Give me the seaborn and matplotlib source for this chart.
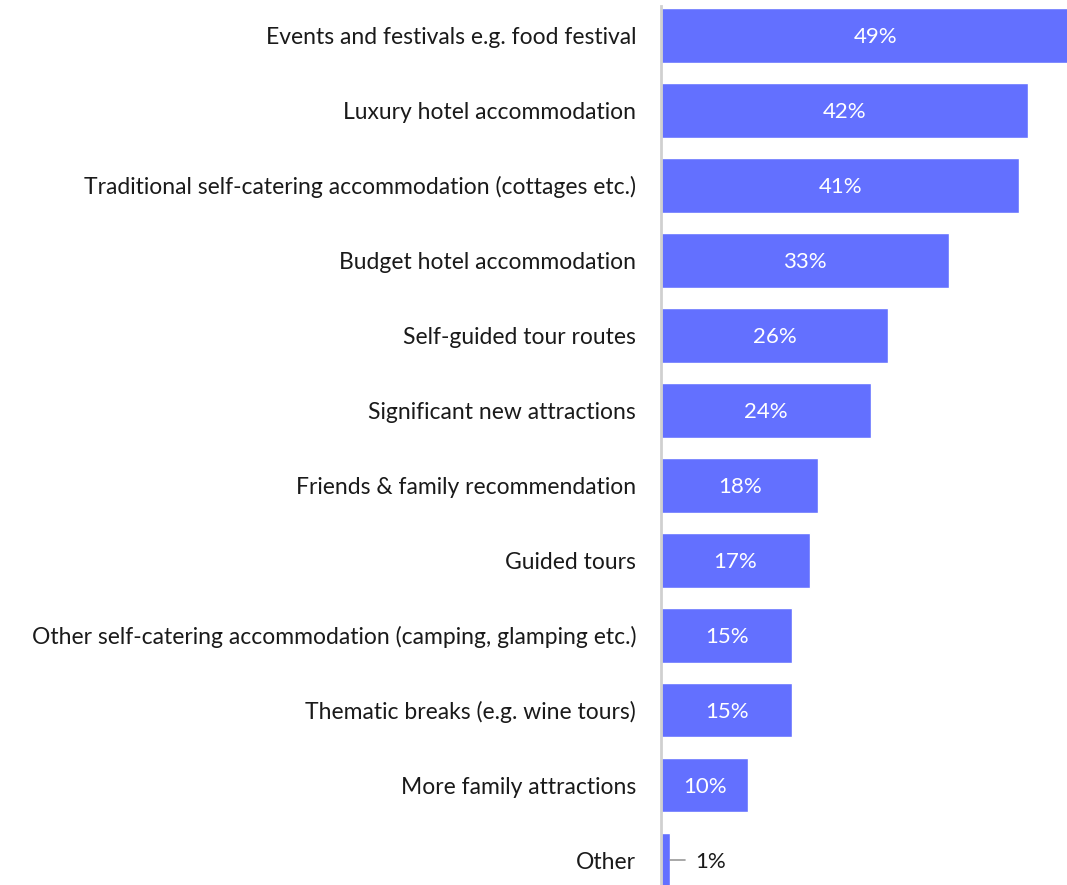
import matplotlib
matplotlib.use("Agg")
import matplotlib.pyplot as plt
import seaborn as sns
import pandas as pd

categories = [
    "Events and festivals e.g. food festival",
    "Luxury hotel accommodation",
    "Traditional self-catering accommodation (cottages etc.)",
    "Budget hotel accommodation",
    "Self-guided tour routes",
    "Significant new attractions",
    "Friends & family recommendation",
    "Guided tours",
    "Other self-catering accommodation (camping, glamping etc.)",
    "Thematic breaks (e.g. wine tours)",
    "More family attractions",
    "Other",
]
values = [49, 42, 41, 33, 26, 24, 18, 17, 15, 15, 10, 1]

df = pd.DataFrame({"category": categories, "value": values})

sns.set_theme(style="white")
plt.rcParams["font.family"] = ["Lato", "DejaVu Sans"]

W, H = 1067, 885
fig = plt.figure(figsize=(W / 100, H / 100), dpi=100)
ax = fig.add_axes([661 / W, 0, 1 - 661 / W, 1 - 6 / H])

bar_color = "#6370FF"
sns.barplot(data=df, x="value", y="category", orient="h", color=bar_color,
            width=0.73, saturation=1, ax=ax)

ax.set_xlim(0, 46.45)
ax.set_ylim(11.333, -0.393)
ax.set_xlabel("")
ax.set_ylabel("")
ax.set_xticks([])
ax.tick_params(axis="y", length=0, pad=18, labelsize=16.5, labelcolor="#1a1a1a")

for s in ["top", "right", "bottom"]:
    ax.spines[s].set_visible(False)
ax.spines["left"].set_color("#d0d0d0")
ax.spines["left"].set_linewidth(2)

for i, v in enumerate(values):
    if v >= 5:
        ax.text(v / 2, i, f"{v}%", ha="center", va="center_baseline",
                color="white", fontsize=16)
    else:
        ax.plot([v, v + 1.8], [i, i], color="#999999", lw=1.2, clip_on=False)
        ax.text(v + 2.9, i, f"{v}%", ha="left", va="center_baseline",
                color="#1a1a1a", fontsize=16)

fig.savefig("out.png", dpi=100)
